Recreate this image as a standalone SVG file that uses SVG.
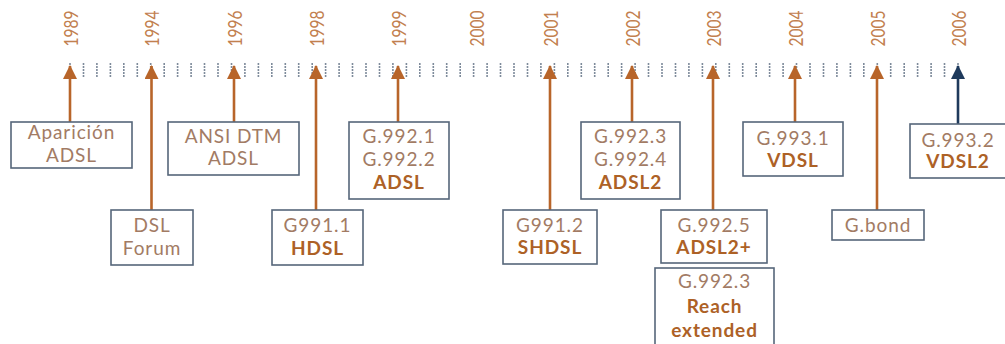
<svg xmlns="http://www.w3.org/2000/svg" width="1005" height="344" viewBox="0 0 1005 344">
<style>
.yr{font-family:Lato,"Open Sans",sans-serif;font-size:20px;fill:#c2804f;text-anchor:middle}
.box{fill:#ffffff;stroke:#56667a;stroke-width:1.6}
.t{font-family:Lato,"Open Sans",sans-serif;font-size:19px;letter-spacing:0.9px;fill:#a27b64;text-anchor:middle}
.b{font-family:Lato,"Open Sans",sans-serif;font-size:19px;letter-spacing:0.9px;font-weight:bold;fill:#ad6126;text-anchor:middle}
.sh{stroke:#b8652a;stroke-width:2.6;fill:none}
.shn{stroke:#1f3a5c;stroke-width:2.6;fill:none}
.tick{stroke:#7e8b9b;stroke-width:1.6;stroke-dasharray:2 1;fill:none}
</style>
<defs>
<marker id="ah" markerUnits="userSpaceOnUse" markerWidth="14" markerHeight="14" refX="13" refY="7" orient="auto"><path d="M0,0 L14,7 L0,14 z" fill="#b8652a"/></marker>
<marker id="ahn" markerUnits="userSpaceOnUse" markerWidth="14" markerHeight="14" refX="13" refY="7" orient="auto"><path d="M0,0 L14,7 L0,14 z" fill="#1f3a5c"/></marker>
</defs>
<g id="years">
<text class="yr" transform="translate(78,28.5) rotate(-90)" textLength="36" lengthAdjust="spacingAndGlyphs">1989</text>
<text class="yr" transform="translate(159,28.5) rotate(-90)" textLength="36" lengthAdjust="spacingAndGlyphs">1994</text>
<text class="yr" transform="translate(242,28.5) rotate(-90)" textLength="36" lengthAdjust="spacingAndGlyphs">1996</text>
<text class="yr" transform="translate(324,28.5) rotate(-90)" textLength="36" lengthAdjust="spacingAndGlyphs">1998</text>
<text class="yr" transform="translate(406,28.5) rotate(-90)" textLength="36" lengthAdjust="spacingAndGlyphs">1999</text>
<text class="yr" transform="translate(484,28.5) rotate(-90)" textLength="36" lengthAdjust="spacingAndGlyphs">2000</text>
<text class="yr" transform="translate(558,28.5) rotate(-90)" textLength="36" lengthAdjust="spacingAndGlyphs">2001</text>
<text class="yr" transform="translate(640,28.5) rotate(-90)" textLength="36" lengthAdjust="spacingAndGlyphs">2002</text>
<text class="yr" transform="translate(721,28.5) rotate(-90)" textLength="36" lengthAdjust="spacingAndGlyphs">2003</text>
<text class="yr" transform="translate(803,28.5) rotate(-90)" textLength="36" lengthAdjust="spacingAndGlyphs">2004</text>
<text class="yr" transform="translate(885,28.5) rotate(-90)" textLength="36" lengthAdjust="spacingAndGlyphs">2005</text>
<text class="yr" transform="translate(966,28.5) rotate(-90)" textLength="36" lengthAdjust="spacingAndGlyphs">2006</text>
</g>
<g id="ticks">
<path class="tick" d="M70,63V77M83.5,63V77M96.9,63V77M110.4,63V77M123.8,63V77M137.3,63V77M150.7,63V77M164.2,63V77M177.6,63V77M191.1,63V77M204.5,63V77M218,63V77M231.5,63V77M244.9,63V77M258.4,63V77M271.8,63V77M285.3,63V77M298.7,63V77M312.2,63V77M325.6,63V77M339.1,63V77M352.5,63V77M366,63V77M379.5,63V77M392.9,63V77M406.4,63V77M419.8,63V77M433.3,63V77M446.7,63V77M460.2,63V77M473.6,63V77M487.1,63V77M500.5,63V77M514,63V77M527.5,63V77M540.9,63V77M554.4,63V77M567.8,63V77M581.3,63V77M594.7,63V77M608.2,63V77M621.6,63V77M635.1,63V77M648.5,63V77M662,63V77M675.5,63V77M688.9,63V77M702.4,63V77M715.8,63V77M729.3,63V77M742.7,63V77M756.2,63V77M769.6,63V77M783.1,63V77M796.5,63V77M810,63V77M823.5,63V77M836.9,63V77M850.4,63V77M863.8,63V77M877.3,63V77M890.7,63V77M904.2,63V77M917.6,63V77M931.1,63V77M944.5,63V77M958,63V77"/>
</g>
<g id="connectors">
<line class="sh" x1="70" y1="122" x2="70" y2="66" marker-end="url(#ah)"/>
<line class="sh" x1="151.5" y1="210" x2="151.5" y2="66" marker-end="url(#ah)"/>
<line class="sh" x1="234" y1="122" x2="234" y2="66" marker-end="url(#ah)"/>
<line class="sh" x1="316" y1="210" x2="316" y2="66" marker-end="url(#ah)"/>
<line class="sh" x1="398" y1="122" x2="398" y2="66" marker-end="url(#ah)"/>
<line class="sh" x1="550" y1="210" x2="550" y2="66" marker-end="url(#ah)"/>
<line class="sh" x1="632" y1="122" x2="632" y2="66" marker-end="url(#ah)"/>
<line class="sh" x1="713" y1="210" x2="713" y2="66" marker-end="url(#ah)"/>
<line class="sh" x1="795" y1="122" x2="795" y2="66" marker-end="url(#ah)"/>
<line class="sh" x1="877" y1="210" x2="877" y2="66" marker-end="url(#ah)"/>
<line class="shn" x1="958" y1="124" x2="958" y2="66" marker-end="url(#ahn)"/>
</g>
<g id="n1989"><rect class="box" x="11" y="122" width="121" height="46"/><text class="t" x="71.5" y="139">Aparición</text><text class="t" x="71.5" y="162">ADSL</text></g>
<g id="n1994"><rect class="box" x="111" y="210" width="82" height="55"/><text class="t" x="152" y="232">DSL</text><text class="t" x="152" y="255">Forum</text></g>
<g id="n1996"><rect class="box" x="168" y="122" width="131" height="53"/><text class="t" x="233.5" y="143">ANSI DTM</text><text class="t" x="233.5" y="165">ADSL</text></g>
<g id="n1998"><rect class="box" x="272" y="210" width="91" height="55"/><text class="t" x="317.5" y="232">G991.1</text><text class="b" x="317.5" y="255">HDSL</text></g>
<g id="n1999"><rect class="box" x="349" y="122" width="100" height="77"/><text class="t" x="399" y="143">G.992.1</text><text class="t" x="399" y="166">G.992.2</text><text class="b" x="399" y="189">ADSL</text></g>
<g id="n2001"><rect class="box" x="503" y="210" width="94" height="54"/><text class="t" x="550" y="232">G991.2</text><text class="b" x="550" y="254">SHDSL</text></g>
<g id="n2002"><rect class="box" x="581" y="122" width="99" height="77"/><text class="t" x="630.5" y="143">G.992.3</text><text class="t" x="630.5" y="166">G.992.4</text><text class="b" x="630.5" y="189">ADSL2</text></g>
<g id="n2003a"><rect class="box" x="661" y="210" width="106" height="53"/><text class="t" x="714" y="232">G.992.5</text><text class="b" x="714" y="254">ADSL2+</text></g>
<g id="n2003b"><rect class="box" x="655" y="268" width="119" height="90"/><text class="t" x="714.5" y="288">G.992.3</text><text class="b" x="714.5" y="313">Reach</text><text class="b" x="714.5" y="337">extended</text></g>
<g id="n2004"><rect class="box" x="743" y="122" width="100" height="54"/><text class="t" x="793" y="145">G.993.1</text><text class="b" x="793" y="167">VDSL</text></g>
<g id="n2005"><rect class="box" x="832" y="210" width="92" height="30"/><text class="t" x="878" y="232">G.bond</text></g>
<g id="n2006"><rect class="box" x="910" y="124" width="100" height="54"/><text class="t" x="958" y="147">G.993.2</text><text class="b" x="958" y="168">VDSL2</text></g>
</svg>
